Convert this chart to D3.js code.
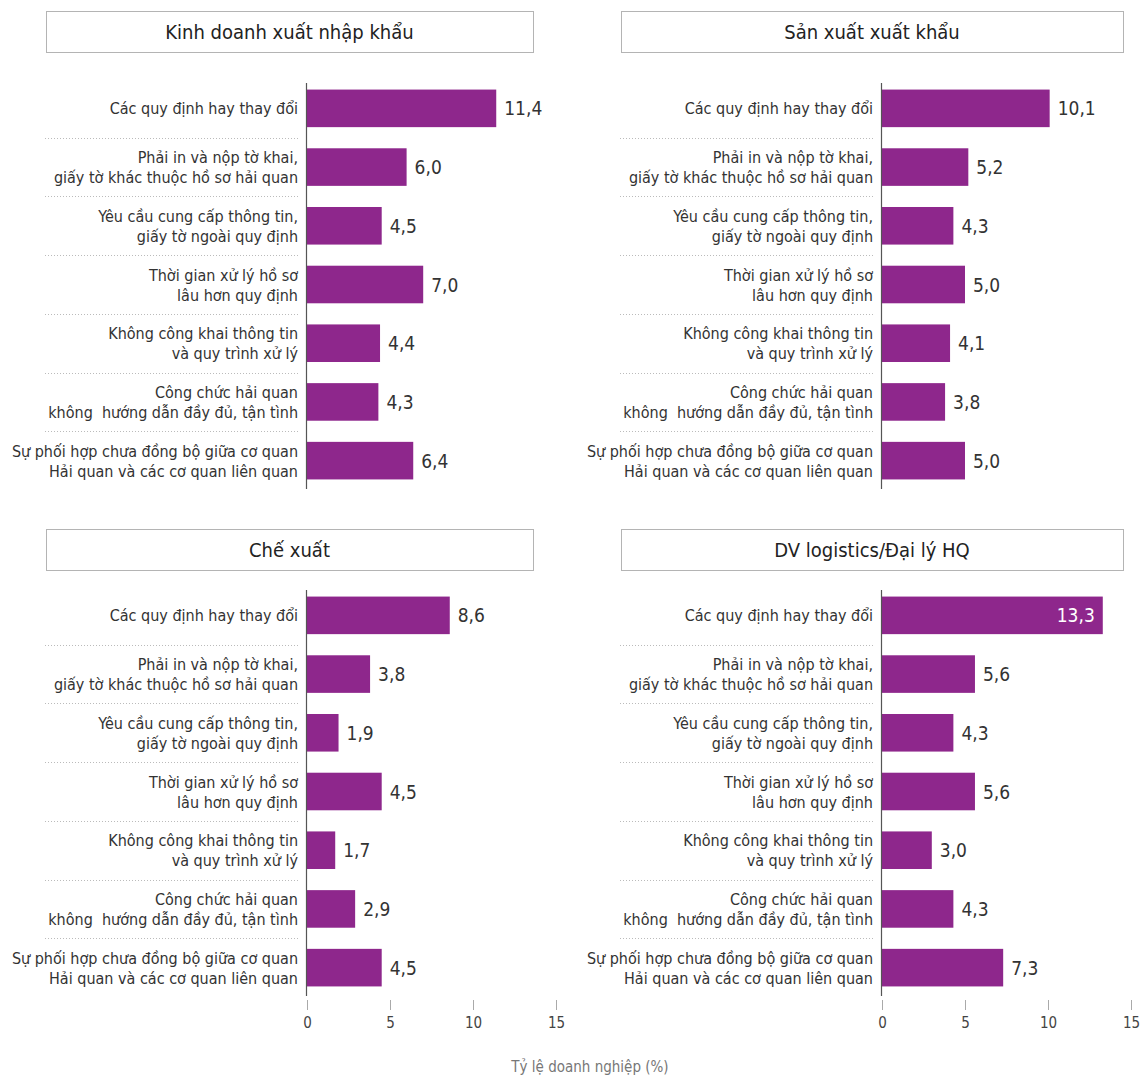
<!DOCTYPE html>
<html>
<head>
<meta charset="utf-8">
<script src="https://cdn.jsdelivr.net/npm/d3@7"></script>
<style>
  body { margin: 0; background: #fff; }
  svg text { font-family: "DejaVu Sans Condensed", "Liberation Sans Narrow", "Noto Sans", sans-serif; }
</style>
</head>
<body>
<div id="chart"></div>
<script>
// categories (one or two lines each)
const categories = [
  ["Các quy định hay thay đổi"],
  ["Phải in và nộp tờ khai,", "giấy tờ khác thuộc hồ sơ hải quan"],
  ["Yêu cầu cung cấp thông tin,", "giấy tờ ngoài quy định"],
  ["Thời gian xử lý hồ sơ", "lâu hơn quy định"],
  ["Không công khai thông tin", "và quy trình xử lý"],
  ["Công chức hải quan", "không  hướng dẫn đầy đủ, tận tình"],
  ["Sự phối hợp chưa đồng bộ giữa cơ quan", "Hải quan và các cơ quan liên quan"]
];
const panelTitles = ["Kinh doanh xuất nhập khẩu", "Sản xuất xuất khẩu", "Chế xuất", "DV logistics/Đại lý HQ"];
const kinhDoanh = [11.4, 6.0, 4.5, 7.0, 4.4, 4.3, 6.4];
const sanXuat = [10.1, 5.2, 4.3, 5.0, 4.1, 3.8, 5.0];
const cheXuat = [8.6, 3.8, 1.9, 4.5, 1.7, 2.9, 4.5];
const logistics = [13.3, 5.6, 4.3, 5.6, 3.0, 4.3, 7.3];
const xTicks = [0, 5, 10, 15];
const axisTitle = "Tỷ lệ doanh nghiệp (%)";

const width = 1145, height = 1075;
const barColor = "#8e278c";
const fmt = v => v.toFixed(1).replace(".", ",");

const svg = d3.select("#chart").append("svg")
  .attr("width", width).attr("height", height);

const panels = [
  { title: panelTitles[0], values: kinhDoanh, ox: 307, oy: 0, by: 0, box: [46, 533] },
  { title: panelTitles[1], values: sanXuat, ox: 882, oy: 0, by: 0, box: [621, 1123] },
  { title: panelTitles[2], values: cheXuat, ox: 307, oy: 518, by: 507, box: [46, 533], axis: true },
  { title: panelTitles[3], values: logistics, ox: 882, oy: 518, by: 507, box: [621, 1123], axis: true }
];

panels.forEach(p => {
  const gt = svg.append("g").attr("transform", `translate(0,${p.oy})`);
  const g = svg.append("g").attr("transform", `translate(0,${p.by})`);
  const x = d3.scaleLinear().domain([0, 15]).range([p.ox, p.ox + 249]);
  const y = d3.scaleBand().domain(d3.range(categories.length)).range([79, 490]).paddingInner(0.36).paddingOuter(0.18);

  // title box
  gt.append("rect").attr("x", p.box[0] + 0.5).attr("y", 11.5)
    .attr("width", p.box[1] - p.box[0]).attr("height", 41)
    .attr("fill", "#fff").attr("stroke", "#b4b4b4").attr("stroke-width", 1);
  gt.append("text").attr("x", (p.box[0] + p.box[1]) / 2).attr("y", 39)
    .attr("text-anchor", "middle").attr("font-size", 20).attr("fill", "#222")
    .text(p.title);

  // dotted separators
  const step = y.step();
  for (let i = 1; i < categories.length; i++) {
    const sy = Math.round(y(i) - (step - y.bandwidth()) / 2) + 0.5;
    g.append("line").attr("x1", p.box[0] - 1).attr("x2", p.ox - 9)
      .attr("y1", sy).attr("y2", sy)
      .attr("stroke", "#bbb").attr("stroke-dasharray", "1,2");
  }

  // bars
  g.selectAll("rect.bar").data(p.values).join("rect").attr("class", "bar")
    .attr("x", x(0)).attr("y", (d, i) => y(i))
    .attr("width", d => x(d) - x(0)).attr("height", y.bandwidth())
    .attr("fill", barColor);

  // value labels
  g.selectAll("text.val").data(p.values).join("text").attr("class", "val")
    .attr("x", d => d > 12 ? x(d) - 8 : x(d) + 8)
    .attr("y", (d, i) => y(i) + y.bandwidth() / 2 + 7)
    .attr("text-anchor", d => d > 12 ? "end" : "start")
    .attr("font-size", 19)
    .attr("fill", d => d > 12 ? "#fff" : "#333")
    .text(fmt);

  // category labels
  categories.forEach((lines, i) => {
    const cy = y(i) + y.bandwidth() / 2;
    const t = g.append("text").attr("text-anchor", "end").attr("font-size", 16)
      .attr("fill", "#333").style("white-space", "pre");
    lines.forEach((ln, j) => {
      const off = lines.length === 1 ? 6 : (j === 0 ? -4 : 16);
      t.append("tspan").attr("x", p.ox - 9).attr("y", cy + off).text(ln);
    });
  });

  // vertical axis line
  g.append("line").attr("x1", p.ox - 0.5).attr("x2", p.ox - 0.5)
    .attr("y1", 83).attr("y2", 489).attr("stroke", "#555").attr("stroke-width", 1.2);

  if (p.axis) {
    const ax = g.append("g").attr("transform", "translate(0,493)")
      .call(d3.axisBottom(x).tickValues(xTicks).tickSize(10).tickPadding(7));
    ax.select(".domain").remove();
    ax.selectAll(".tick line").attr("stroke", "#aaa");
    ax.selectAll(".tick text").attr("font-size", 15).attr("fill", "#444")
      .style("font-family", "\"DejaVu Sans Condensed\", sans-serif");
  }
});

svg.append("text").attr("x", 590).attr("y", 1072).attr("text-anchor", "middle")
  .attr("font-size", 15).attr("fill", "#777").text(axisTitle);
</script>
</body>
</html>
